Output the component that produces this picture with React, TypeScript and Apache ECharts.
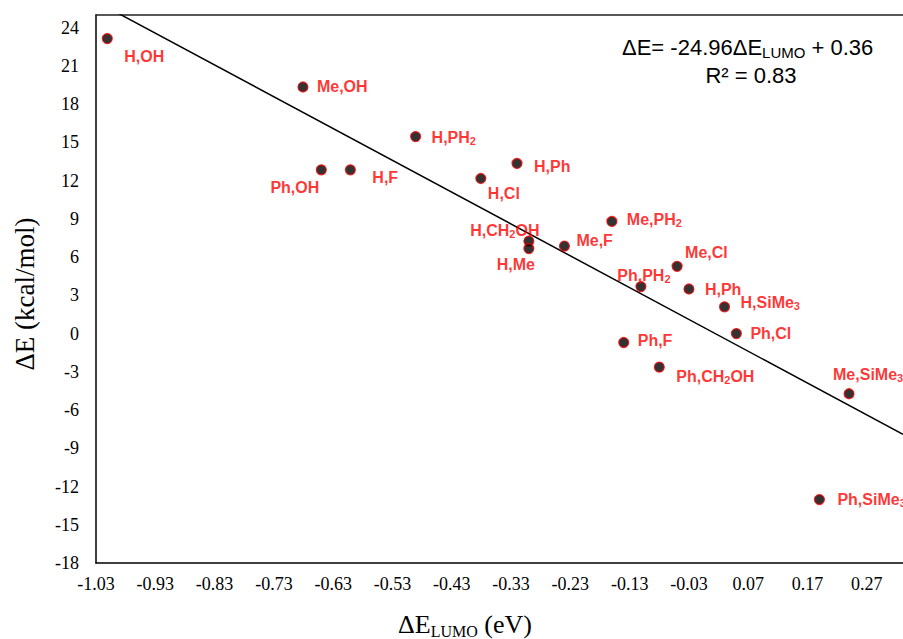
import React, { useEffect, useRef } from "react";
import * as echarts from "echarts";

const pointNames = [
  "H,OH", "Me,OH", "Ph,OH", "H,F", "H,PH2", "H,Cl", "H,Ph", "H,CH2OH", "H,Me", "Me,F",
  "Me,PH2", "Me,Cl", "Ph,PH2", "H,Ph", "H,SiMe3", "Ph,Cl", "Ph,F", "Ph,CH2OH", "Me,SiMe3", "Ph,SiMe3",
];
const deltaLumo = [
  -1.011, -0.681, -0.650, -0.601, -0.491, -0.381, -0.320, -0.300, -0.300, -0.240,
  -0.160, -0.050, -0.111, -0.030, 0.030, 0.050, -0.140, -0.080, 0.240, 0.190,
];
const deltaE = [
  23.15, 19.35, 12.85, 12.85, 15.46, 12.17, 13.35, 7.26, 6.67, 6.87,
  8.8, 5.28, 3.69, 3.5, 2.1, 0.0, -0.7, -2.63, -4.72, -13.02,
];
// label placement: [align, dx, dy]
const labelPlacement: [string, number, number][] = [
  ["left", 17, 18], ["left", 14, -1], ["right", -2, 18], ["left", 22, 8], ["left", 16, 1],
  ["left", 7, 15], ["left", 17, 3], ["center", -24, -11], ["center", -13, 16], ["left", 12, -6],
  ["left", 15, -2], ["left", 8, -14], ["center", 3, -11], ["left", 16, 0], ["left", 16, -4],
  ["left", 14, 0], ["left", 14, -2], ["left", 17, 9], ["left", -16, -19], ["left", 18, 0],
];
const fitSlope = -24.96;
const fitIntercept = 0.36;
const xMin = -1.03;
const xMax = 0.331; // visible (cropped) right edge of the plot
const yMin = -18;
const yMax = 25;

const SERIF = "'Liberation Serif', 'Times New Roman', serif";
const SANS = "'Liberation Sans', Arial, sans-serif";

export default function App() {
  const ref = useRef<HTMLDivElement>(null);
  useEffect(() => {
    if (!ref.current) return;
    const chart = echarts.init(ref.current, null, { renderer: "svg" });
    const labelRich = {
      b: { fontFamily: SANS, fontWeight: "bold", fontSize: 16, color: "#ff0000", lineHeight: 18 },
      s: { fontFamily: SANS, fontWeight: "bold", fontSize: 11, color: "#ff0000", lineHeight: 10, verticalAlign: "bottom" },
    };
    const fmt = (name: string) =>
      name.split(/(\d)/).filter((p) => p.length).map((p) => (/\d/.test(p) ? `{s|${p}}` : `{b|${p}}`)).join("");
    const scatterData = pointNames.map((n, i) => ({
      name: n,
      value: [deltaLumo[i], deltaE[i]],
      label: {
        show: true,
        position: "inside",
        align: labelPlacement[i][0],
        verticalAlign: "middle",
        offset: [labelPlacement[i][1], labelPlacement[i][2]],
        formatter: () => fmt(n),
        rich: labelRich,
      },
    }));
    chart.setOption({
      animation: false,
      backgroundColor: "#ffffff",
      grid: {
        left: 96,
        top: 15,
        bottom: 76,
        right: 0,
        show: false,
        containLabel: false,
      },
      xAxis: [
        {
          type: "value",
          position: "bottom",
          min: xMin,
          max: xMax,
          interval: 0.1,
          splitLine: { show: false },
          axisTick: { show: false },
          axisLine: { show: true, onZero: false, lineStyle: { color: "#000", width: 1.5 } },
          axisLabel: {
            fontFamily: SERIF,
            fontSize: 18,
            color: "#000",
            margin: 12,
            showMaxLabel: false,
            formatter: (v: number) => (v > 0.3 ? "" : v.toFixed(2)),
          },
        },
        {
          type: "value",
          position: "top",
          min: xMin,
          max: xMax,
          interval: 0.1,
          splitLine: { show: false },
          axisTick: { show: false },
          axisLabel: { show: false },
          axisLine: { show: true, onZero: false, lineStyle: { color: "#222", width: 1.5 } },
        },
      ],
      yAxis: {
        type: "value",
        min: yMin,
        max: yMax,
        interval: 3,
        splitLine: { show: false },
        axisTick: { show: false },
        axisLine: { show: true, onZero: false, lineStyle: { color: "#000", width: 1.5 } },
        axisLabel: {
          fontFamily: SERIF,
          fontSize: 18,
          color: "#000",
          margin: 17,
          formatter: (v: number) => (v > 24.5 ? "" : String(Math.round(v))),
        },
      },
      series: [
        {
          type: "line",
          xAxisIndex: 0,
          data: [
            [xMin, fitSlope * xMin + fitIntercept],
            [xMax, fitSlope * xMax + fitIntercept],
          ],
          showSymbol: false,
          symbol: "none",
          clip: true,
          lineStyle: { color: "#000", width: 1.5 },
          silent: true,
          z: 1,
        },
        {
          type: "scatter",
          xAxisIndex: 0,
          data: scatterData,
          symbol: "circle",
          symbolSize: 10,
          itemStyle: { color: "#000", borderColor: "#ff0000", borderWidth: 1.2 },
          z: 3,
        },
      ],
      graphic: [
        {
          type: "text",
          left: 622,
          top: 36,
          style: {
            text: "{a|ΔE= -24.96ΔE}{s|LUMO}{a| + 0.36}",
            rich: {
              a: { fontFamily: SANS, fontSize: 22, fill: "#000", lineHeight: 26 },
              s: { fontFamily: SANS, fontSize: 15, fill: "#000", lineHeight: 16, verticalAlign: "bottom" },
            },
          },
        },
        {
          type: "text",
          x: 751,
          y: 75,
          style: {
            text: "R² = 0.83",
            fontFamily: SANS,
            fontSize: 22,
            fill: "#000",
            align: "center",
            verticalAlign: "middle",
          },
        },
        {
          type: "text",
          x: 465,
          y: 624,
          style: {
            text: "{a|ΔE}{s|LUMO}{a| (eV)}",
            align: "center",
            verticalAlign: "middle",
            rich: {
              a: { fontFamily: SERIF, fontSize: 26, fill: "#000", lineHeight: 30 },
              s: { fontFamily: SERIF, fontSize: 16, fill: "#000", lineHeight: 18, verticalAlign: "bottom" },
            },
          },
        },
        {
          type: "text",
          x: 25,
          y: 294,
          rotation: Math.PI / 2,
          style: {
            text: "ΔE (kcal/mol)",
            fontFamily: SERIF,
            fontSize: 27,
            fill: "#000",
            align: "center",
            verticalAlign: "middle",
          },
        },
      ],
    });
    return () => chart.dispose();
  }, []);
  return (
    <div
      ref={ref}
      style={{ position: "fixed", left: 0, top: 0, width: 903, height: 639, background: "#fff" }}
    />
  );
}
